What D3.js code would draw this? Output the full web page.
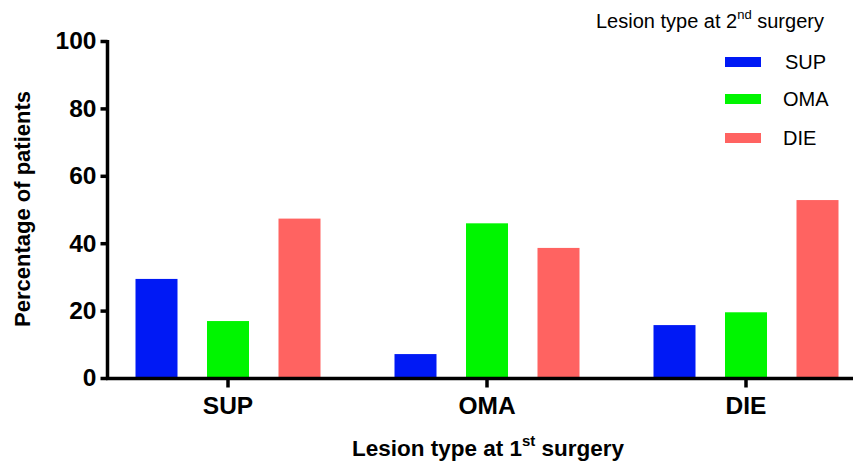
<!DOCTYPE html>
<html><head><meta charset="utf-8">
<script src="https://cdn.jsdelivr.net/npm/d3@7"></script>
<style>body{margin:0;background:#fff}svg{display:block}text{font-family:"Liberation Sans",Arial,sans-serif}</style>
</head><body><svg id="c" width="853" height="463"></svg>
<script>
const categories = ["SUP","OMA","DIE"];
const series = ["SUP","OMA","DIE"];
const colors = ["#0019F5","#00F500","#FF6361"];
const values = {
  SUP: [29.4, 16.9, 47.3],
  OMA: [7.1, 45.9, 38.6],
  DIE: [15.7, 19.5, 52.8]
};
const yTicks = [0,20,40,60,80,100];

const svg = d3.select("#c");
const y = d3.scaleLinear().domain([0,100]).range([378,41]);
const x0 = d3.scaleBand().domain(categories).range([98.5,875.5]);
const x1 = d3.scaleBand().domain(series).range([37,222]).paddingInner(0.4126).paddingOuter(0);

// bars
categories.forEach(cat=>{
  const g = svg.append("g").attr("transform",`translate(${x0(cat)},0)`);
  g.selectAll("rect").data(values[cat]).join("rect")
    .attr("x",(d,i)=>x1(series[i])).attr("width",x1.bandwidth())
    .attr("y",d=>y(d)).attr("height",d=>y(0)-y(d))
    .attr("fill",(d,i)=>colors[i]);
});

// y axis
const ya = svg.append("g").attr("transform","translate(107.5,0)")
  .call(d3.axisLeft(y).tickValues(yTicks).tickSize(7).tickPadding(4).tickSizeOuter(0));
ya.select(".domain").attr("stroke-width",3.5).attr("d",`M0,${y(100)-1}V${y(0)+1.5}`);
ya.selectAll(".tick line").attr("stroke-width",3.5);
ya.selectAll(".tick text").attr("font-size",24.5).attr("font-weight","bold").attr("fill","#000").attr("font-family","Liberation Sans, Arial, sans-serif");

// x axis
const xa = svg.append("g").attr("transform","translate(0,378.5)")
  .call(d3.axisBottom(x0).tickSize(9).tickPadding(9).tickSizeOuter(0));
xa.select(".domain").attr("stroke-width",3.5).attr("d","M106,0H853");
xa.selectAll(".tick line").attr("stroke-width",3.5);
xa.selectAll(".tick text").attr("font-size",24.5).attr("font-weight","bold").attr("fill","#000").attr("font-family","Liberation Sans, Arial, sans-serif");

// axis titles
svg.append("text").attr("transform","translate(30,209) rotate(-90)")
  .attr("text-anchor","middle").attr("font-size",22).attr("font-weight","bold")
  .text("Percentage of patients");
const xt = svg.append("text").attr("x",488).attr("y",456).attr("text-anchor","middle")
  .attr("font-size",22.5).attr("font-weight","bold");
xt.append("tspan").text("Lesion type at 1");
xt.append("tspan").attr("font-size",15).attr("dy",-10).text("st");
xt.append("tspan").attr("dy",10).text(" surgery");

// legend
const lt = svg.append("text").attr("x",596).attr("y",28).attr("font-size",20);
lt.append("tspan").text("Lesion type at 2");
lt.append("tspan").attr("font-size",13).attr("dy",-9).text("nd");
lt.append("tspan").attr("dy",9).text(" surgery");
const legY = [62,99,138];
series.forEach((s,i)=>{
  svg.append("rect").attr("x",725).attr("y",legY[i]-5).attr("width",36).attr("height",10).attr("fill",colors[i]);
  svg.append("text").attr("x",i===0?785:783).attr("y",legY[i]+7).attr("font-size",20).text(s);
});
</script></body></html>
